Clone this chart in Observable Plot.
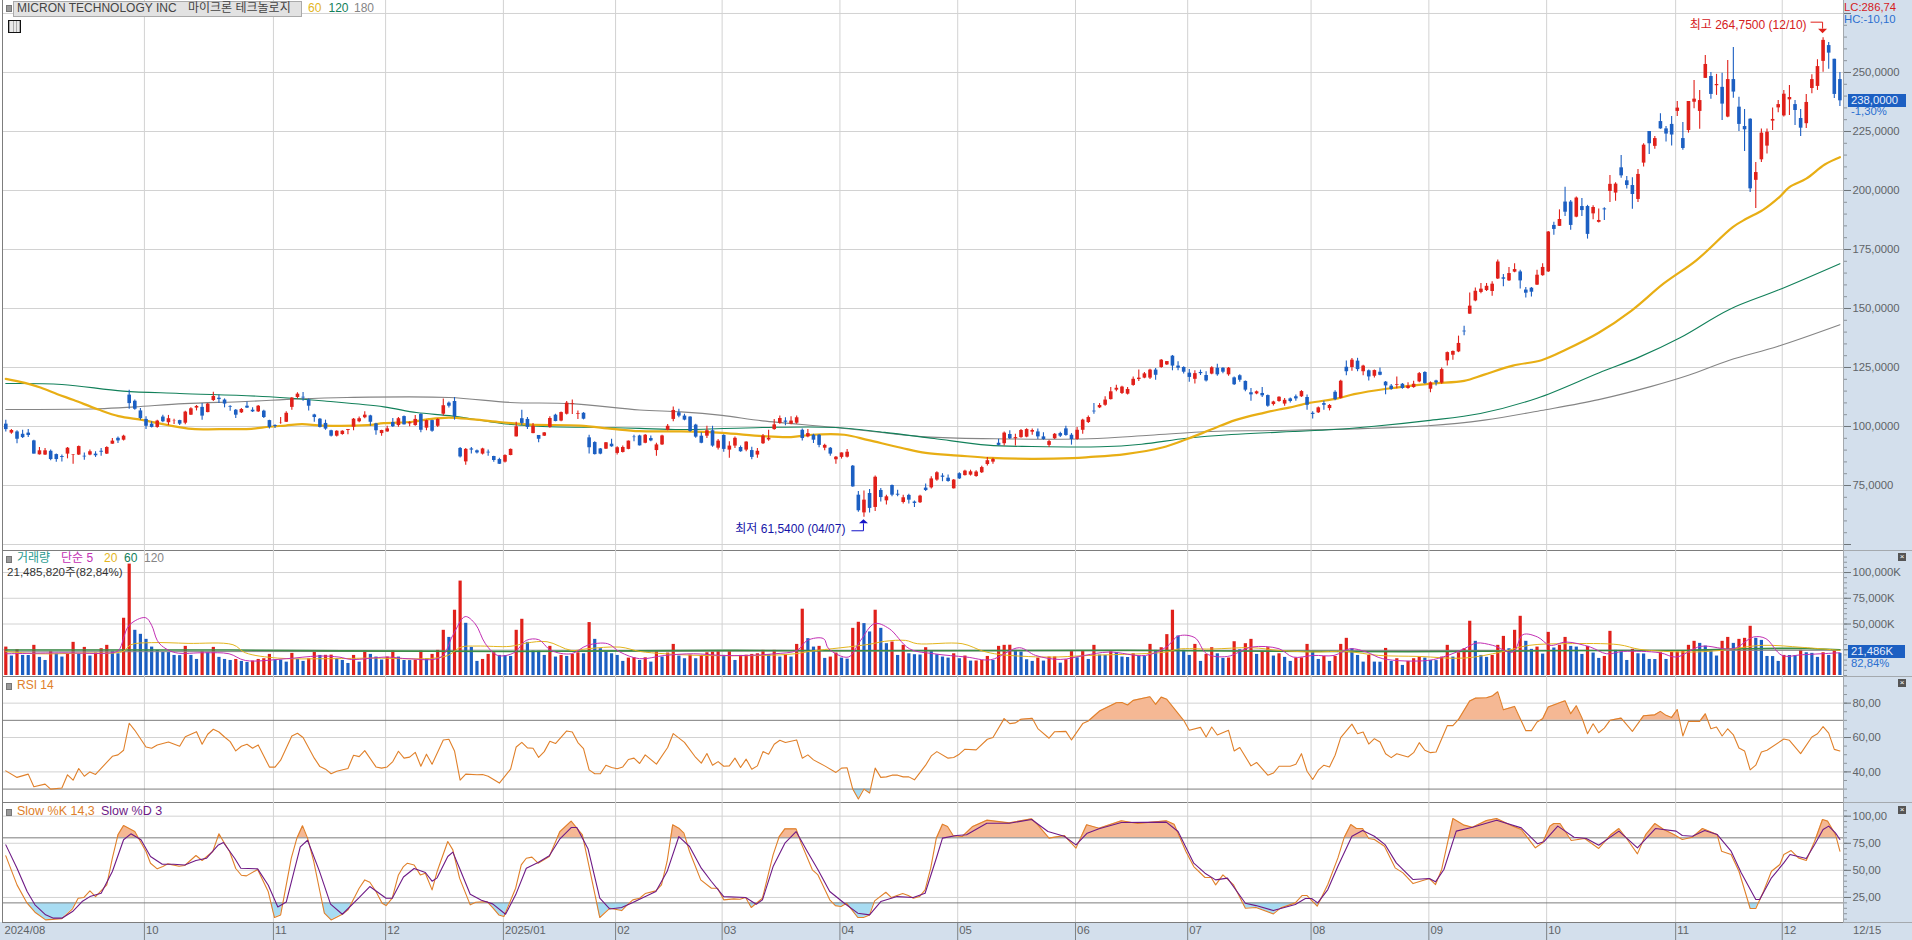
<!DOCTYPE html>
<html lang="ko"><head><meta charset="utf-8">
<script src="https://cdn.jsdelivr.net/npm/d3@7"></script>
<script src="https://cdn.jsdelivr.net/npm/@observablehq/plot@0.6"></script>
<style>
html,body{margin:0;padding:0;background:#fff;overflow:hidden}
#page{position:relative;width:1912px;height:940px;overflow:hidden;font-family:"Liberation Sans","Noto Sans CJK KR",sans-serif;
 background:linear-gradient(to right,#fff 1843px,#d3dfec 1843px)}
#foot{position:absolute;left:0;top:922px;width:1912px;height:18px;background:#d3dfec}
#stack{position:absolute;left:0;top:0;width:1912px}
#stack svg{display:block}
.t{position:absolute;white-space:nowrap;font-size:12px;line-height:14px;color:#555}
.bul{position:absolute;width:4px;height:5px;background:#999;border:1px solid #777}
.x{position:absolute;width:8px;height:8px;background:#555;color:#fff;font:8px/8px "Liberation Sans",sans-serif;text-align:center}
.sep{position:absolute;left:1843px;width:69px;height:1px;background:#a4a9ae}
</style></head><body>
<div id="page"><div id="foot"></div><div id="stack"></div></div>
<script>
// [open, high, low, close] in USD. Red = close above open, blue = below.
const candlesA = [
[101,102.7,97.7,98.7],[97.2,98.7,96.7,98.3],[97.7,98.2,92.7,94.6],[96.7,98.4,94.9,95.3],[97.2,98.7,95.3,96.2],[93.9,94.2,88.3,88.3],[88,91.1,87.9,89.7],[87.9,90.7,87.7,89.7],[89.5,90,85.5,86],[88.1,88.3,84.9,86],
[87.3,87.9,85,86.9],[88.3,91.1,86.3,90.8],[87.7,88.1,84,87.9],[87.9,91.7,87.7,91.5],[87.4,88.8,85.7,87.1],[87.9,90,87.6,89.3],[88.3,89.3,86.9,87.6],[89.5,90.7,87.4,89.1],[88.3,91.4,88.1,91.1],[92.5,94.9,92.5,93.8],
[95,95.5,92.8,93.9],[94.2,96.3,93.9,95.9],[113.3,115.4,107.3,109.7],[110.7,111.2,106.9,107.3],[106.6,107.6,102.7,103.4],[103,104.1,98.7,100.1],[101,102,99.4,99.6],[99.6,102.7,99.3,102.3],[104,104.8,101.6,102],[101.6,104.7,100.4,103.3],
[102.4,103.1,100.8,102.5],[102.5,102.7,100.4,101],[101.4,106.5,100.7,106.1],[104.8,107.9,104.7,107.5],[107.8,108.9,106.6,108.5],[108.1,109.7,102.7,104.4],[105.9,109.7,105.8,109.5],[111,114.5,110.6,112.7],[112,113.3,109.7,111.4],[111.2,111.7,107.9,109.5],
[108.5,108.8,106.5,108.2],[106.9,107.2,103.4,104.8],[105.8,107.6,105.5,107.2],[108.6,110.4,107.6,107.8],[106.9,107.9,105.9,106.2],[106.2,108.9,105.9,108.6],[106.5,106.9,103.4,103.8],[102.5,102.7,98.9,99.6],[100.4,100.7,99.2,100],[101.6,103.8,101,101.7],
[101.8,106.2,101.7,105.6],[108.1,112.3,106.9,112],[112.3,114.3,111.7,113.7],[112.4,114.4,110.7,112.1],[111.2,111.7,106.6,108.6],[104.9,105.2,101.8,103.8],[103.1,103.4,99.4,99.6],[101.3,102.7,98.4,98.9],[98.2,98.4,95.6,95.9],[95.9,98.2,95.5,98],
[96.6,98.2,96.3,98],[98.3,98.7,96.5,98.7],[99.7,103.4,98.2,103.1],[102,104,101.6,103.3],[103.7,106.3,103.3,104.8],[104.5,104.8,100.1,101.8],[101.1,101.4,96.3,98.2],[97,98.4,95.9,98.3],[97.7,100.1,97.6,99],[101.7,103.4,99.6,99.9],
[100.4,103.8,99.7,103.3],[104.2,104.4,100.6,100.7],[101.1,102,99.9,101.6],[100.4,104.7,100.1,103],[105.1,105.4,97.3,98.4],[99.3,102.7,98.2,102.5],[102.5,102.7,97.6,98],[100.1,103.3,99.6,103],[105.2,111.7,104.4,108.8],[109.9,110.4,107.8,108.6],
[110.6,112.3,102.7,104.1],[90.7,91.1,86.7,87.1],[85,90.7,83.6,90.3],[90.5,91.1,88.3,90],[89.7,90,88.3,88.8],[88.3,90.8,87.9,90.5],[89.1,90,87.4,88.8],[87.3,87.4,84.9,85.6],[86,86.5,83.9,84],[84.9,88,84.5,87.7],
[87.7,90.5,87.6,90.3],[95.6,101.8,95.5,99.9],[103.3,106.9,100.4,101.3],[103,103.8,98.7,99.6],[97,101.3,96.9,100.1],[96.2,96.2,93.1,94.6],[95.9,97.5,95.8,97.3],[99.6,104.1,99.3,103.4],[104.8,105.2,102,102.1],[102.3,106.1,102,105.9],
[105.2,110.6,104.9,109.9],[109.3,111.2,105.1,109.6],[105.1,106.6,103,105.4],[105.6,105.9,102.8,103.1],[95.2,96.3,88.3,91],[93.2,93.5,87.9,88.1],[90.5,90.7,88,88.3],[90.4,93.2,90.3,93.1],[92.5,94.6,91.2,91.4],[88.6,91.4,87.9,91],
[89,91.7,88.8,91.1],[90.3,93.9,90.1,93.8],[95.5,96.3,93.5,95.3],[96,96.3,91.7,91.8]];
const candlesB = [
[92.9,96.6,92.7,96.3],[94.9,96,93.5,93.9],[89.8,92.9,87.4,92.2],[92.2,96.3,92,96],[98.4,100.8,98.2,100.1],[103,108.3,102,106.8],[105.8,107.3,103.7,104.4],[104.4,105.2,102.4,102.7],[104,104.1,97.6,97.9],[100.6,101,95,95.5],
[95.9,97.3,92.7,92.9],[95.9,100.1,94.9,98.2],[98.2,100.1,91.2,91.7],[90.8,94.5,90,93.8],[96.2,96.5,89.1,90.3],[90,93.5,86.6,91.7],[91.7,95.6,90.7,95],[91.1,91.7,89.1,89.3],[90,93.5,89.3,93.4],[89.8,91.2,85.9,86.9],
[87.9,90.7,86.6,89.5],[92.7,96.6,92.4,95.9],[94.3,98.4,93.8,95],[98.7,103,98.4,100.7],[101.3,104.5,101,103.4],[102.3,103.7,100.3,101.8],[101,104.1,100.7,102.3],[101.4,104.5,101,103.7],[98.4,98.9,93.9,94.9],[95.6,98.7,95.2,97],
[96.3,96.7,92.8,94.2],[96.3,96.6,91,92],[90.8,92.5,89.7,92],[90.8,91.1,87.4,88.3],[85.9,87.3,84,87],[86.9,88.8,86.2,88.8],[87,90.3,86.7,89.1],[83.2,83.5,74.3,74.4],[70.9,72.5,63.7,64.3],[63.4,72.7,61.54,68.8],
[71.6,73.3,63.4,65.3],[65.7,79,64,78.5],[72.9,73.7,68,69.9],[68.5,70.9,66.7,70.2],[75,75.2,70.2,70.9],[71.3,73,70.2,70.9],[67.8,70.9,67.2,69.8],[70.8,71.3,67.2,68.8],[68,68.4,65.7,67.4],[67.7,70.9,67.4,70.5],
[73.9,75.6,72.5,72.9],[74,78.7,73.5,77.8],[77.3,80.8,76.8,80.4],[79,80,76.6,78.5],[78.1,79.4,76.4,76.7],[73.6,77.5,73.5,77.3],[80,80.4,77.5,77.8],[79.2,81.5,79,81.1],[79.4,81.5,79,80.8],[78.8,81.2,78.5,80.7],
[80.4,83.2,80.1,82.6],[83.9,86.9,83.3,85.5],[84.9,86.6,84,86],[92.9,94.6,91.7,92],[92.7,97.7,91.7,97.2],[96.6,98.2,94.5,94.8],[94.8,96.7,91.7,95.3],[95.3,98.7,95,98.3],[95.5,99,95.2,98.7],[97.6,98.9,96.3,98.3],
[97.7,98.9,94.5,95.6],[95.6,97.3,94.2,94.5],[92,94.2,91.1,93.6],[94.8,97,94.5,96.7],[97,97.6,95.3,95.9],[99,100.1,95.9,96.2],[96.3,97,92.1,94.5],[94.5,99.6,94.2,98.4],[98.4,103.1,96.7,102.7],[101.7,104.4,101.3,103.8],
[106.5,109.7,105.2,106.2],[107.9,109.7,107.6,108.9],[109,112.6,108.6,111.2],[111.4,116.5,111.2,114.7],[115.4,117.5,114.7,116.2],[114,117.1,113.6,116.7],[113.7,116.5,113.3,115.7],[117.4,121,117.1,120],[119.9,123.9,119.1,120.5],[120.5,122.9,120.2,122.3],
[120.5,124.3,119.9,123.9],[123.9,124.6,119.6,121.7],[125,128.4,124.7,128.1],[126.1,127.5,125.8,127.5],[129.8,130.1,123.6,125.6],[125.6,127.4,123.6,124.7],[125,125.3,122.2,123],[122.6,124.1,118.8,120.8],[120,123.6,118,122.4],[122.9,123.9,121.6,122.4],
[121.6,123.2,118.9,119.3],[122.2,125.3,121.9,124.9],[124.7,126.4,121.3,121.9],[124.7,124.9,122.4,123],[121.9,125,121.3,124.7],[120.6,121,117.4,117.7],[121.5,121.9,118.8,119.6],[119.1,119.3,114.7,115.4],[114.3,116.1,110.7,113.4],[113.8,115,113.4,114.7],
[114,116.5,112.3,113],[113.1,113.3,108.2,108.6],[109.3,110.7,108.7,110.4],[110.6,112.6,110.3,112.4]];
const candlesC = [
[109.5,111.9,108.6,111.1],[111.7,112.1,110,110.6],[112.6,113.3,110.7,111.7],[112.6,115.2,112.3,114.8],[112.3,113.3,106.9,109],[105.6,106.2,103.2,105.1],[105.8,108.3,105.5,107.9],[109.7,110.7,106.9,109],[107.6,109.3,106.6,108.9],[114.5,115.1,110.9,111.4],
[111.9,119.6,111.6,119.2],[125.1,127.8,121.5,123.2],[125,128.8,123.4,128.1],[127.7,128.9,123.2,124.1],[123.2,126,121.5,125.6],[123.6,123.9,119.3,121],[121.3,123.9,120.6,123.7],[123,124.8,121.5,121.7],[118.8,119.1,113.5,117.2],[117.1,117.8,115.4,115.7],
[117.5,121,116,117.8],[117.9,118.2,115.8,116.1],[116.1,118.5,115.8,117.1],[116.5,119.2,116.2,117.9],[118.9,122.9,118.5,122.4],[122.9,123.2,117.9,118.2],[115.8,118.9,114.3,118.5],[119.3,119.6,117.2,118.5],[118.4,124.8,117.9,124.1],[127.8,131.6,125.6,131.3],
[130.2,132,128.1,131.8],[131.6,138.3,131.3,135.2],[140.4,142.5,138.4,140.1],[147.6,156.6,147.6,151],[153.2,158.7,152.9,157.3],[156.8,160.6,156.3,158.2],[157.6,160.6,157.2,159.4],[157.2,161.3,155.2,160.3],[162.5,170.5,162.3,169.7],[163,164.4,159.2,162.4],
[161.7,167.4,161.4,164.8],[165.4,169,165.1,166.5],[165.5,166.2,158.3,161.7],[157.8,158.9,154.4,156.5],[158.6,158.9,154.9,156.9],[159.9,166.2,159.7,164.1],[163.9,169,163.7,167.4],
[165.5,182.6,165.2,182.4],[185.2,186.5,181,183.5],[184.8,191.8,184.8,187.7],[195.1,201.4,189,190.8],[195.1,195.8,183.1,185.2],[188.7,197.2,188.4,196.8],[193.2,196.6,189,191.5],[193.2,193.7,179.4,181.4],[190.1,193.5,187.6,192.8],[186.5,192.2,186.2,187.3],
[192.2,192.7,187.3,191.8],[199.6,206.4,194.9,202.6],[198.9,203.3,195.4,202.7],[209.6,214.8,205.2,206.2],[204.1,205.9,200.6,202.1],[202.1,205.4,192,198.3],[196.2,208.9,194.9,206.8],[211.6,219.8,209.9,219.2],[225,225,215.3,219.8],[218.7,222.9,217.5,222],
[229.2,232.5,225.9,226.1],[226.1,227.1,220.5,223.9],[228,231.4,218.8,223.5],[233.5,237.7,231.4,234.9],[222,228.8,217,217.8],[225.4,237.7,224.3,237.7],[237.4,246.6,234.6,238.7],[233.5,242.4,225.9,238.1],[247.5,257.2,247.5,253.4],[248.3,250,238.7,240.7],
[244.4,249.2,240.3,244.9],[243.7,249.7,229.7,236.6],[231.1,255.1,230.8,247],[247,260.6,239.1,241.7],[235.3,239.5,225,228],[227.1,234.3,216.5,225.7],[230.2,230.4,199.2,200.7],[204.3,211.9,192.4,207.6],[213,226.1,211.9,224.3],[218.8,226.1,215.5,224.7],
[229.4,235,225.4,230.1],[235,238.1,232.9,236.4],[231.6,242.4,231.1,240.8],[238.4,244.5,231.8,239.4],[236.4,238.1,227.5,233.9],[230.5,234.3,222.9,226.4],[228.3,240.7,226.3,237.3],[243.2,249,241,247],[244.1,255.4,242.4,252.5],[254.7,264.75,250.1,263.6],
[261.4,262.7,251.4,258.2],[255.6,255.6,239,240.7],[247,250,235.6,238]];

// [bar, value] readings of the moving averages on the price pane
const ma60 = [[0,120.2],[3.4,118.5],[6.3,116.4],[9.2,113.7],[12.1,111.2],[16.5,107.2],[20.1,104.4],[24.5,102.7],[28.9,100.6],[33.2,99],[39.8,98.9],[43.8,99],[47,99.9],[49.9,100.4],[52.8,101],[56.5,100.4],[64.5,100.6],[67.4,101.4],[72.5,102],[75.4,103.1],[79,103.8],[83.4,103],[88.4,101.8],[93.5,100.8],[102.3,100.4],[108.1,99],[113,98],[120.4,97.9],[127.7,97.3],[134.9,95.9],[140,95.5],[143.7,96.5],[149.5,96.5],[153.8,94.2],[159.6,91],[164,88.8],[169.8,87.7],[175.6,86.7],[182.9,86.3],[190.2,86.6],[193,87],[199.6,88.3],[206.2,91.1],[210.5,94.6],[214.9,98.7],[219.2,102.7],[224.3,105.8],[227,107.2],[228.8,108],[232.4,110],[237.5,111.9],[240.4,113.7],[246.2,116],[254.2,118.2],[260,119.3],[263.6,122],[268.7,125.8],[273.8,128.1],[278.2,132.6],[284,139.7],[289.8,149],[295.6,160.6],[301.4,170.4],[307.9,184.5],[310.3,188],[313.3,191.8],[316.2,197.2],[318,201.4],[321,205],[324.3,211],[327,214.1]];
const ma120 = [[0,118.2],[10,117.8],[20.9,115],[31,114],[47,112.6],[57.2,110.7],[67.4,108.3],[73.2,105.9],[79.7,104.4],[88.4,101.3],[95.7,100],[106.6,99.6],[113,99.2],[120.4,98.7],[134.9,99.6],[148,99.6],[156.7,97.5],[165.5,94.9],[175,92.1],[182.9,91.5],[195.2,91.4],[202.5,92.5],[210.5,95],[218.5,96.6],[227,97.6],[229.5,97.9],[236.8,98.7],[244,100.1],[253.5,102.5],[262.9,105.5],[273,112],[284,122.7],[291.3,129.5],[298.5,137.6],[307.3,149.6],[316,157.8],[327,169]];
const ma180 = [[0,107.2],[16.5,107.5],[23,108.3],[31.8,109.7],[42.7,110.6],[52.1,111.7],[60.8,112.3],[79,112.3],[89.9,110.2],[100.8,109.7],[113,107],[120.4,106.2],[127.7,104.7],[134.9,102.4],[148,99.6],[164,95.6],[176.4,94.8],[193.1,94.8],[204,96.3],[214.9,97.9],[226,98.3],[240.4,99],[253.5,100.3],[263.6,102.7],[274.5,107.1],[284,111.4],[293.4,117],[300,121.7],[307.3,128.1],[316,134],[327,143.1]];

// volume per bar, in millions of shares
const volumesA = [27.6,18.9,25,19.5,19.4,29.3,17.6,14.6,23.4,20.8,17.9,21.1,32.2,20.8,27.3,18.9,21.8,26,29.3,23.4,21.1,55.6,108.2,43.9,40,35.1,27.6,24.4,22.4,22.3,19.5,19.3,28.3,19.5,15.6,23.4,22.1,27.3,17.6,15.6,14.6,15.6,13.7,12.7,14,15.6,16.3,20.5,15.3,15,13,21.5,15.6,13.7,16.3,22.4,19.5,19.6,19.8,16.3,14.6,11.7,19.5,13,23.7,20.5,17.9,15,17.9,23.7,17.9,14.6,14.5,14.9,23.7,16.3,20.5,24.4,43.9,37,63.4,91.7,50.7,27.3,13.7,15.6,20.5,22.1,19.5,19.4,18.5,43.9,54.6,32.2,23.7,23.6,19.5,28.3,17.9,19.5,18.5,20.5,22.1,21.1,51.4,35.1,26,23.4,21.1,19.5,13.7,16.9,17.2,14.6];
const volumesB = [17.2,13,23.4,17.9,21.8,30.2,18.9,16.3,19.8,16.3,19.5,22.1,22.8,24,19.5,23.7,14.6,19.5,19.7,20.5,21.1,24.4,20.2,24.4,17.9,20.2,17.9,30.2,64.4,35.8,27.6,28.3,16.6,17.9,21.8,16.9,15.9,45.8,51.7,50.4,42.3,63.4,45.8,30.9,32.5,19.5,29.3,21.1,20.2,19.9,27,23.7,20.2,17.9,16.9,21.1,16.3,18.9,14,14.1,14.6,18.5,14.6,28.3,29.3,29.4,24.4,22.8,15.3,13.7,16.9,14,17.9,18,12,15.3,23.4,17.2,23.4,15.6,29.3,19.8,19.5,23.1,22,17.9,17.5,21.1,18.5,18.4,30.2,24.4,27,39.7,63.4,38.4,24.4,19.5,30.2,13.7,20.5,27,21.1,16.6,17,32.8,25,30.9,35.1,20.5,23.4,27,18.9,21.1];
const volumesC = [17.6,13.7,16.9,17.1,30.2,22.8,15.6,18.5,13.7,18.5,30.2,36.1,26,19.5,13,19.5,13,12.9,26.3,13.7,16.3,9.8,13.7,16.3,17.9,16.9,14.6,14.5,17.9,29.3,17.9,22.1,26,52.7,33.2,19.5,17.6,19.5,29.3,38,26,43.9,57.5,33.2,25.4,27.6,20.8,41.9,26.7,29.3,37,28.3,27.6,20.5,28.3,21.8,16.6,18.5,42.9,24.4,22.8,14.6,25.4,21.1,20.9,15.6,15.5,22.1,15.6,22.8,23,23.4,29.3,33.2,31.2,28.6,24.4,18.9,33.2,37,31.2,35.1,36.1,47.8,36.1,34.1,18.5,18.4,13.7,19.5,19.4,19.3,24.4,22.1,21.5,17.6,22.1,19.5,24.4,21.486];

const volMa5 = [[0,21.1],[10,22],[18.7,22],[20.1,24.4],[22,48.8],[24.9,56.2],[26,48.8],[27,34.1],[28.1,27.6],[30.3,22.1],[35.4,22.1],[39.8,21.1],[42.7,14.6],[50,16.3],[55.7,18.9],[59.4,17.9],[61.6,15.6],[68,17.9],[71.7,16.3],[77.6,17.9],[79.7,39],[81.9,57.2],[83.7,50.1],[85.5,30.9],[87.7,19.5],[90.6,22.1],[92.8,34.1],[95,34.8],[97.2,24.4],[100.8,21.1],[103.7,29.3],[107.3,30.9],[109.5,22.8],[113,16.3],[117.5,19.5],[122.6,21.1],[127.7,19.5],[132,19.5],[137.1,21.1],[141.1,24.4],[142.9,34.1],[145.8,35.8],[146.7,26],[150.2,17.9],[152.4,34.1],[154.9,50.4],[157.5,45.5],[161.1,26],[165.5,21.1],[171.3,17.9],[175.6,15.3],[180.7,27],[183.6,19.5],[188,15.6],[192.3,19.5],[196.7,22.8],[203.2,19.5],[206.9,27.6],[209.1,38.4],[212,36.7],[214.1,21.1],[217.8,18.5],[222.1,27.6],[227,26],[229.5,17.9],[233.1,19.5],[236.8,19.5],[239.7,26],[242.6,22.8],[245.5,16.3],[253.5,14.6],[257.1,19.5],[260,26],[262.2,31.5],[265.1,29.3],[268.7,22.8],[270.5,39.7],[273.1,37.4],[275.3,29.3],[278.2,32.5],[282.5,27.6],[285.4,21.1],[288.4,23.4],[294.9,22.1],[297.8,17.9],[302.2,28.3],[308,26],[311.6,37.4],[313.8,35.8],[316.7,19.5],[320.3,20.2],[327,22.1]];
const volMa20 = [[0,23.4],[5.6,21.1],[13.6,21.8],[20.9,23.4],[22.3,29.9],[26,31.9],[32.5,31.2],[40.5,29.9],[42.7,22.1],[48.5,16.9],[57.2,16.3],[64.5,16.9],[78.3,18.5],[81.2,27.6],[84,28.6],[89.9,28.3],[92.8,31.5],[96.5,32.8],[100.8,24.4],[103.7,26],[109.5,27.6],[113,23.4],[117.5,21.1],[124,19.5],[134.9,19.5],[140.7,21.1],[143.7,23.7],[153.8,30.2],[156.7,33.2],[160.4,34.1],[162.5,30.9],[170.5,30.9],[174.2,23.7],[177.1,20.5],[185.8,17.9],[193.1,19.5],[206.9,22.8],[209.1,25.7],[214.9,25.7],[222.1,27],[227,24.4],[233.1,22.8],[238.9,23.4],[244.8,19.5],[252,18.5],[260,16.9],[266.6,22.8],[271.6,29.3],[278.2,30.9],[287.6,29.9],[291.3,25.4],[300,22.8],[305.8,24.4],[313.1,29.3],[320.3,27.3],[327,24.4]];
const volMa60 = [[0,24.7],[40,24.7],[60,23.9],[90,23.4],[130,24.4],[150,24],[200,24.5],[225,23.5],[250,23],[275,24],[300,24.5],[310,26],[320,26.5],[327,25]];
const volMa120 = [[0,23],[100,23.5],[200,24],[327,24.5]];

const rsi14 = [[0,40.6],[2,36.8],[4,38.7],[5,31.4],[7,32.9],[8,30],[10,30.6],[11,38.3],[12,35.2],[13,42],[14,37.5],[15,40],[16,38.5],[19,49.1],[20,49.9],[21,52.6],[22,68.3],[23,64.2],[25,54.5],[26,53.8],[27,55.7],[29,57.4],[31,54.9],[32,60.5],[34,63.4],[35,56.1],[36,61.9],[37,64.8],[38,63.2],[39,60.3],[40,57.6],[41,52.2],[42,54.9],[43,56.1],[44,53.8],[45,55.7],[47,42.8],[48,42.8],[49,46.8],[51,60.9],[52,62.5],[53,60],[55,48],[56,43.1],[57,41.6],[58,38.9],[59,40.4],[61,42],[62,49.7],[63,48.9],[64,52.4],[66,42.9],[67,42.2],[68,42.9],[69,46],[70,52],[71,48],[72,48.6],[73,51.4],[74,43.3],[75,50.3],[76,44.5],[78,58.6],[79,59],[80,52.2],[81,35.2],[82,38.7],[84,38.3],[85,38.5],[86,37.5],[88,33.5],[90,41.6],[91,54.5],[92,57.2],[93,54],[94,53.8],[95,48.4],[96,51.8],[97,57.8],[98,56.5],[100,63.8],[101,63.2],[102,57.1],[103,53.6],[104,41.2],[105,38.9],[106,38.9],[107,43.9],[108,42.6],[109,41.8],[110,42.9],[111,47.2],[112,48],[113,44.9],
[114,49.9],[116,44.5],[118,54.2],[119,62.3],[121,57.2],[123,48.4],[124,45.1],[125,50.7],[126,43.9],[127,46],[128,43.3],[129,43.5],[130,48],[131,42.6],[132,47.4],[133,41.6],[134,43.5],[135,51.8],[136,50.3],[137,56.1],[138,58.4],[139,57.1],[141,58.6],[142,48],[143,49.9],[144,47],[146,43.5],[148,39.7],[149,42.2],[150,42.4],[151,30],[152,24.2],[153,30],[154,27.7],[155,42.2],[156,36.8],[157,37.1],[158,38.1],[159,38.1],[160,37.1],[161,37.1],[162,35.4],[164,43.9],[165,49.3],[166,51.8],[168,48],[169,48.4],[170,50.3],[171,53.2],[173,52.8],[175,59],[176,60],[178,71],[179,68.1],[180,68.5],[181,70.6],[183,71.2],[184,65.2],[186,59.6],[187,63.4],[189,63.6],[190,58.6],[192,68.1],[193,69.6],[195,75.4],[198,80.2],[199,80.4],[200,78.9],[201,81.6],[204,83.7],[205,79.3],[206,83.5],[207,82.2],[210,70],[211,64.2],[213,65.9],[214,60.3],[215,66.1],[216,61.5],[218,64.2],[219,52.2],[220,54.2],[222,43.5],[223,45.5],[225,38.1],[226,39.3],[227,43.3],
[229,43.3],[230,44.4],[231,50.6],[232,40.4],[233,35.6],[234,41],[235,43.9],[236,42.9],[237,49.7],[238,59.9],[240,67.8],[241,62.2],[242,63.2],[243,56.2],[244,59.3],[245,57.4],[246,50.6],[247,48.3],[248,50.6],[250,48.7],[251,51.2],[252,57],[253,52.6],[254,51.2],[255,51.6],[257,66.9],[258,66.9],[259,70.5],[261,81.2],[262,82.9],[264,83.1],[265,84.1],[266,86.6],[267,76.1],[269,78.1],[271,64],[272,64],[273,69],[274,70.9],[275,77.7],[278,81.4],[279,73.8],[280,78.5],[281,71.5],[282,62.2],[283,68],[284,62.8],[285,65.5],[286,70],[288,71.3],[290,63.6],[292,72.7],[294,73.2],[295,75.2],[296,72.9],[297,71.7],[298,76.3],[299,60.9],[300,69.4],[302,69.4],[303,73.8],[304,65.1],[305,66.1],[306,60.9],[307,65.1],[308,61.6],[309,53.9],[310,52.2],[311,41.2],[312,43.9],[313,51.6],[314,52.6],[317,59.1],[318,58.4],[320,50.6],[322,60.3],[323,62.2],[324,66.3],[325,62.6],[326,53.1],[327,52.2]];

const slowK = [[0,63.4],[2,36.6],[3.8,19.7],[5.2,11.4],[7.1,4.3],[10,5.5],[11.9,14.5],[12.9,24.3],[13.9,24.9],[15,31.1],[16,25.8],[18,36.6],[19,61.2],[20,82.8],[21,91.4],[23,85.8],[25,67.4],[25.8,56.6],[27,51.4],[28,53.5],[28.9,56],[30.9,53.8],[31.9,54.5],[33.9,63.7],[35,59.1],[36.9,67.4],[38,83.7],[38.8,76.6],[39.9,67.4],[41,51.7],[42,45.5],[42.9,44.9],[44.9,50.8],[46.8,30.2],[47.9,6.5],[49,8.9],[50.9,61.2],[51.9,79.7],[52.9,91.1],[53.8,79.7],[54.9,58.2],[56,30.5],[56.8,10.5],[58,4.3],[60,9.5],[61,13.5],[63,33.5],[64,41.2],[64.9,39],[66,30.5],[67.1,19.7],[67.8,17.5],[68.9,24.3],[70,45.8],[70.9,53.5],[71.6,56.6],[72.8,55],[73.9,45.8],[74.8,47.4],[76,32],[76.9,48.9],[78.8,76.6],[79.7,68.9],[80.9,42.8],[82.8,18.2],[83.8,20.6],[85.8,21.2],[86.8,15.7],[87.9,8.9],[88.8,7.4],[90.9,33.5],[91.9,55],[92.8,61.2],[93.8,62.2],[94.9,56.6],[96.9,62.8],[98.8,85.8],[100.8,95.4],[102.8,82.8],[103.8,58.2],[105.9,6.5],[107.7,15.1],[109.8,12.9],[110.8,18.2],[111.8,22.8],[113,24.3],
[114,28.6],[115.9,31.1],[116.9,36.6],[117.9,58.2],[118.9,92],[120,88.9],[120.9,84.3],[121.9,67.4],[123.9,41.2],[125.8,33.5],[126.9,33.5],[128,22.8],[129.8,23.7],[130.9,23.4],[131.9,24.9],[132.9,15.7],[134.9,24.3],[136.8,64.3],[137.9,81.2],[138.9,88.3],[140.9,88.3],[141.8,75.1],[143.8,50.5],[144.8,45.8],[146.9,22.8],[147.9,17.5],[148.9,16.6],[149.9,19.7],[151.9,6.5],[152.9,6.5],[154,8.9],[154.9,21.8],[156.9,29.8],[157.9,24.9],[159.9,28.6],[160.9,26.8],[161.8,24.3],[162.9,25.8],[163.9,32],[164.9,52],[165.9,79.7],[167,92.6],[167.9,90.5],[168.9,82.2],[170.5,81.2],[172.4,90.5],[174.9,96.3],[178.9,93.8],[182.9,97.5],[184,92],[186,79.7],[188.7,82.2],[190.8,70.5],[192.7,92],[194.9,88.9],[198.9,95.7],[201.8,93.2],[206.9,95.7],[208.3,92.6],[210.4,67.4],[211.8,53.5],[213.8,43.4],[214.9,43.4],[215.7,36.6],[217,45.8],[218.9,36.6],[221,15.1],[222.9,15.7],[226,9.8],
[227.3,15.4],[229.9,20],[231.1,26.8],[232,26.8],[233.8,16.9],[235.7,36.9],[237.5,61.5],[238.6,80],[239.8,92.3],[240.8,88.6],[241.9,88.6],[243,79.4],[244,78.5],[245.8,72.3],[247.7,52.3],[249.1,47.7],[250.9,37.8],[253.8,42.5],[254.9,36.9],[256,50.8],[258,97.8],[260,91.7],[261.5,89.8],[264,96],[265.8,97.8],[268.7,90.8],[270.2,87.7],[272.7,70.8],[274,75.4],[275.3,90.8],[276,93.2],[277.1,93.2],[279.1,77.5],[281.5,79.4],[284,70.2],[286.2,83.1],[287.6,88.6],[289.1,78.5],[290.9,65.2],[292.4,83.1],[294,93.2],[295.6,87.7],[297.4,83.1],[298.9,78.5],[300.7,80.6],[302.5,88.6],[305.1,83.1],[305.9,67.7],[307.6,64.6],[309,49.2],[311,14.8],[312,14.8],[313.4,30.8],[314.8,49.2],[316.3,55.4],[317,64.6],[318.3,68.3],[319.6,61.5],[321,59.1],[322.5,76.9],[323.9,96.9],[324.8,95.4],[326.2,83.1],[327,67.7]];
const slowD = [[0,73.5],[2,52],[3.8,30.5],[5.2,18.2],[7.1,9],[8.5,5.9],[10,5.9],[11.9,12],[13.6,21.2],[15,25.8],[17,28.9],[19,48.9],[21,78.2],[22.3,83.7],[24.1,78.2],[25.8,62.8],[27.9,55.6],[29.9,55.6],[31.9,55],[33.9,59.1],[35.8,61.2],[37.9,73.5],[38.8,75.7],[40.8,61.2],[41.9,52],[44.9,51.4],[46.8,36.2],[48.5,16.2],[50,20.8],[52.5,71.7],[53.8,77.8],[55.9,49.5],[57.9,18.8],[60,9.5],[62.9,24.3],[64.9,35.1],[67.8,24.3],[68.9,24.3],[70.9,43.9],[72.8,51.7],[74.8,48],[76,40],[76.9,43.1],[78.8,62.8],[79.7,66.8],[80.9,52],[82.8,28],[84.8,22.5],[86.8,19.1],[89.1,9.5],[90.9,27.4],[92.8,52],[94.9,57.2],[96.9,63.4],[98.8,79.1],[100.8,89.5],[101.8,89.5],[103.8,70],[105.9,24.3],[107.7,14.3],[109.8,15.7],[111.8,20.3],[113,23.4],
[115.9,30.5],[117.9,48.9],[120,81.2],[121.9,72],[124,52],[125.8,39.7],[128,25.8],[131.9,24.9],[133.8,18.8],[134.9,22.8],[136.8,53.5],[138.9,75.1],[140.9,85.8],[142.9,67.4],[144.8,50.5],[146.9,30.5],[149.5,19.7],[151.9,10.5],[154,8.9],[156,21.2],[158.9,25.8],[161.8,24.9],[163.9,28.9],[165.9,61.2],[167,79.7],[169.5,82.2],[171.3,82.8],[174.9,93.5],[178.9,93.5],[182.9,96.9],[185.8,85.8],[188.7,81.5],[190.8,73.5],[192.8,84.3],[194.9,88.3],[198.9,94.2],[206.9,94.5],[209,85.8],[211.8,56.6],[213.8,47.4],[215.7,41.2],[217.8,42.8],[221,19.7],[222.9,17.5],[226,12.9],
[229.9,18.5],[231.7,24],[232.8,24],[233.9,20],[235.7,32.3],[237.5,53.8],[240,81.5],[241.9,86.8],[244,81.5],[245.9,73.8],[247.9,56.9],[250.9,41.5],[253.8,42.5],[254.9,39.4],[256.4,50.8],[258.6,86.2],[261.5,89.8],[265.8,96.3],[270.2,89.2],[273.1,74.5],[274.2,76.3],[276.7,90.8],[279.6,80.6],[281.8,79.4],[284,73.2],[287.6,86.2],[290.9,70.8],[294.1,88.6],[297.8,86.2],[298.9,82.2],[300.7,81.5],[302.9,86.8],[305.1,83.1],[307.6,67.7],[309.4,47.7],[312,23.1],[312.7,23.1],[314.8,43.1],[317,56.9],[318.1,64.6],[321,60.9],[322.5,73.8],[324,87.7],[325,90.8],[326.2,84.6],[327,78.5]];

const monthBars = [25,48,68,89,109,128,149,170,191,211,233,254,275,298,317];
const monthNames = ["10","11","12","2025/01","02","03","04","05","06","07","08","09","10","11","12"];
const priceTicks = [50,75,100,125,150,175,200,225,250,275];
const volumeTicks = [25,50,75,100];
const rsiTicks = [40,60,80], rsiBands = [70,30];
const stochTicks = [25,50,75,100], stochBands = [80,20];
const peakBar = 324, peakPrice = 264.75, troughBar = 153, troughPrice = 61.54;

const RED="#e0201a", BLUE="#1c5fc2", GRID="#d2d2d2", DARK="#7d7d7d", AXIS="#5f6468";
const GOLD="#e8ae14", GREEN="#12805a", GREY="#858585", ORANGE="#e0802a", PURPLE="#6e1a86", MAG="#c22fb4";
const FONT='"Liberation Sans","Noto Sans CJK KR",sans-serif';
const SMOOTH="catmull-rom";

const candles = [...candlesA,...candlesB,...candlesC].map(([o,h,l,c],i)=>({i,o,h,l,c}));
const volumes = [...volumesA,...volumesB,...volumesC];
const volRows = volumes.map((v,i)=>({i,v,up:i===0||v>volumes[i-1]}));
const xDomain = [-0.588,327.64];

function base(height,yDomain,marks,extra={}){
  return Plot.plot({width:1912,height,marginLeft:2,marginRight:69,marginTop:0,marginBottom:0,
    x:{domain:xDomain,axis:null},y:{domain:yDomain,axis:null},
    style:{background:"transparent",fontFamily:FONT,fontSize:"11.3px",overflow:"visible"},
    ...extra,marks});
}
const vrules = ()=>Plot.ruleX(monthBars,{stroke:GRID,strokeWidth:1,dx:-1.6});
const rightAxis=(ticks,fmt,minor)=>[
  Plot.axisY(minor,{anchor:"right",tickSize:3,tickFormat:()=>"",label:null,stroke:"#8b939b"}),
  Plot.axisY(ticks,{anchor:"right",tickSize:7,tickPadding:2,tickFormat:fmt,label:null,stroke:"#6d7479",fill:AXIS})
];
const edges=()=>[Plot.frame({anchor:"left",stroke:DARK}),Plot.frame({anchor:"right",stroke:"#a4a9ae"})];
const xy=a=>a.map(([x,y])=>({x,y}));
function overUnder(points,level,above){
  const out=[];const on=v=>above?Math.max(v,level):Math.min(v,level);
  points.forEach(([x,v],k)=>{
    if(k){const [px,pv]=points[k-1];
      if((pv-level)*(v-level)<0){out.push({x:px+(x-px)*(level-pv)/(v-pv),y:level});}}
    out.push({x,y:on(v)});
  });
  return out;
}
const band=(pts,level,above,fill)=>Plot.areaY(overUnder(pts,level,above),{x:"x",y1:()=>level,y2:"y",fill,fillOpacity:1});

const calloutHigh=(_,s)=>{const x=s.x(peakBar),y=s.y(peakPrice);
  const g=d3.create("svg:g");
  g.append("path").attr("d",`M${x-12},${y-15}H${x}V${y-8.5}`).attr("fill","none").attr("stroke",RED);
  g.append("path").attr("d",`M${x-4.5},${y-8.5}H${x+4.5}L${x},${y-4}Z`).attr("fill",RED);
  return g.node();};
const calloutLow=(_,s)=>{const x=s.x(troughBar),y=s.y(troughPrice);
  const g=d3.create("svg:g");
  g.append("path").attr("d",`M${x-12},${y+14}H${x}V${y+6.5}`).attr("fill","none").attr("stroke","#1414c8");
  g.append("path").attr("d",`M${x-4.5},${y+6.5}H${x+4.5}L${x},${y+2.5}Z`).attr("fill","#1414c8");
  return g.node();};

const priceFmt=d=>d<75||d>250?"":d.toFixed(4).replace(".",",");
const main=base(550,[47.46,280.5],[
  Plot.gridY(priceTicks,{stroke:GRID,strokeOpacity:1}),
  vrules(),...edges(),Plot.frame({anchor:"bottom",stroke:DARK}),
  ...rightAxis(priceTicks,priceFmt,d3.range(50,276,5)),
  Plot.line(xy(ma180),{x:"x",y:"y",stroke:GREY,strokeWidth:1.1,curve:SMOOTH}),
  Plot.line(xy(ma120),{x:"x",y:"y",stroke:GREEN,strokeWidth:1.1,curve:SMOOTH}),
  Plot.line(xy(ma60),{x:"x",y:"y",stroke:GOLD,strokeWidth:2.2,curve:SMOOTH}),
  Plot.ruleX(candles,{x:"i",y1:"l",y2:"h",stroke:d=>d.c>=d.o?RED:BLUE,strokeWidth:1.1}),
  Plot.ruleX(candles,{x:"i",y1:"o",y2:"c",stroke:d=>d.c>=d.o?RED:BLUE,strokeWidth:3.6}),
  Plot.text([{}],{x:()=>peakBar,y:()=>peakPrice,text:()=>"최고 264,7500 (12/10)",textAnchor:"end",dx:-16.5,dy:-13,fill:"#d5201c",fontSize:12}),
  calloutHigh,
  Plot.text([{}],{x:()=>troughBar,y:()=>troughPrice,text:()=>"최저 61,5400 (04/07)",textAnchor:"end",dx:-18.5,dy:12,fill:"#1414a8",fontSize:12}),
  calloutLow
]);

const volFmt=d=>d3.format(",")(d*1000)+"K";
const volume=base(126,[-0.97,121.4],[
  Plot.gridY(volumeTicks,{stroke:GRID,strokeOpacity:1}),
  vrules(),...edges(),Plot.frame({anchor:"bottom",stroke:DARK}),
  ...rightAxis(volumeTicks,volFmt,d3.range(0,116,5)),
  Plot.ruleX(volRows,{x:"i",y1:()=>0,y2:"v",stroke:d=>d.up?RED:BLUE,strokeWidth:3.2}),
  Plot.line(xy(volMa120),{x:"x",y:"y",stroke:GREY,strokeWidth:1}),
  Plot.line(xy(volMa60),{x:"x",y:"y",stroke:"#3a8c46",strokeWidth:1.6}),
  Plot.line(xy(volMa20),{x:"x",y:"y",stroke:"#e3b51e",strokeWidth:1,curve:SMOOTH}),
  Plot.line(xy(volMa5),{x:"x",y:"y",stroke:MAG,strokeWidth:1,curve:SMOOTH})
]);

const rsiFmt=d=>d.toFixed(2).replace(".",",");
const rsi=base(126,[22.2,95.5],[
  Plot.gridY(rsiTicks,{stroke:GRID,strokeOpacity:1}),
  vrules(),...edges(),Plot.frame({anchor:"bottom",stroke:DARK}),
  ...rightAxis(rsiTicks,rsiFmt,d3.range(25,95,5)),
  band(rsi14,70,true,"#f5b894"),band(rsi14,30,false,"#a8dcf2"),
  Plot.ruleY(rsiBands,{stroke:DARK,strokeWidth:1}),
  Plot.line(xy(rsi14),{x:"x",y:"y",stroke:ORANGE,strokeWidth:1.1})
]);

const stoch=base(138,[1.9,112.6],[
  Plot.gridY(stochTicks,{stroke:GRID,strokeOpacity:1}),
  vrules(),...edges(),Plot.frame({anchor:"bottom",stroke:DARK}),
  ...rightAxis(stochTicks,rsiFmt,d3.range(5,106,5)),
  band(slowK,80,true,"#f5b894"),band(slowK,20,false,"#a8dcf2"),
  Plot.ruleY(stochBands,{stroke:DARK,strokeWidth:1}),
  Plot.line(xy(slowK),{x:"x",y:"y",stroke:ORANGE,strokeWidth:1.1}),
  Plot.line(xy(slowD),{x:"x",y:"y",stroke:PURPLE,strokeWidth:1.1}),
  Plot.axisX(monthBars,{tickSize:18,tickFormat:()=>"",label:null,stroke:"#7d8388",dx:-1.6}),
  Plot.text(monthBars,{x:d=>d,text:(d,i)=>monthNames[i],frameAnchor:"bottom",dy:8,lineAnchor:"middle",textAnchor:"start",dx:0,fill:AXIS}),
  Plot.text([{}],{x:()=>0,text:()=>"2024/08",frameAnchor:"bottom",dy:8,lineAnchor:"middle",textAnchor:"start",dx:-1.3,fill:AXIS}),
  Plot.text([{}],{x:()=>327,text:()=>"12/15",frameAnchor:"bottom",dy:8,lineAnchor:"middle",textAnchor:"start",dx:13,fill:AXIS})
],{marginBottom:18});

const stack=document.getElementById("stack");
[main,volume,rsi,stoch].forEach(p=>stack.append(p));

const page=document.getElementById("page");
function put(text,left,cy,color,css=""){const d=document.createElement("div");d.className="t";d.textContent=text;
  d.style.cssText=`left:${left}px;top:${cy-7}px;color:${color};${css}`;page.append(d);return d;}
function bul(top){const d=document.createElement("div");d.className="bul";d.style.cssText=`left:6px;top:${top}px`;page.append(d);}
function closeBtn(top){const d=document.createElement("div");d.className="x";d.textContent="×";d.style.cssText=`left:1898px;top:${top}px`;page.append(d);}
[550,676,802,922].forEach(t=>{const d=document.createElement("div");d.className="sep";d.style.top=t+"px";page.append(d);});

// top-left legend
const box=document.createElement("div");box.style.cssText="position:absolute;left:13px;top:1px;width:287px;height:14px;background:#e2e2e2;border:1px solid #aaa";page.append(box);
bul(5);
put("MICRON TECHNOLOGY INC",17,8,"#444");
put("마이크론 테크놀로지",188,8,"#444","font-size:12px");
put("60",308,8,"#e3b51e");put("120",328.5,8,GREEN);put("180",354,8,GREY);
const icon=document.createElement("div");
icon.style.cssText="position:absolute;left:8px;top:20px;width:11px;height:11px;border:1.5px solid #111;background:repeating-linear-gradient(to right,#aaa 0 1px,#e8e8e8 1px 3.5px),#ddd";page.append(icon);

bul(556);put("거래량",17,558,"#2a9a90");put("단순 5",61,558,MAG);
put("20",104,558,"#e3b51e");put("60",124,558,GREEN);put("120",144,558,GREY);
put("21,485,820주(82,84%)",7,572,"#333","font-size:11.6px");
bul(683);put("RSI 14",17,685,ORANGE);
bul(809);put("Slow %K 14,3",17,811,ORANGE,"font-size:12.5px");put("Slow %D 3",101,811,PURPLE,"font-size:12.5px");

// right rail read-outs
put("LC:286,74",1844,7,"#d5201c","font-size:11.3px");put("HC:-10,10",1844,19,"#2b6fd0","font-size:11.3px");
const priceY=main.scale("y").apply(candles.at(-1).c);
const pb=put("238,0000",1848,priceY,"#e6eefc","font-size:11.3px");pb.style.cssText+=";background:#1c5fc2;width:55px;padding-left:3px;height:13px;line-height:13px;top:"+(priceY-6.5)+"px";
put("-1,30%",1851,priceY+11,"#2b6fd0","font-size:11.3px;line-height:11px;margin-top:2px");
const volY=550+volume.scale("y").apply(21.486)-1;
const vb=put("21,486K",1848,volY,"#e6eefc","font-size:11.3px");vb.style.cssText+=";background:#1c5fc2;width:54px;padding-left:3px;height:13px;line-height:13px;top:"+(volY-6.5)+"px";
put("82,84%",1851,volY+11,"#2b6fd0","font-size:11.3px;line-height:11px;margin-top:2px");
closeBtn(552.5);closeBtn(679);closeBtn(806);
</script>
</body></html>
